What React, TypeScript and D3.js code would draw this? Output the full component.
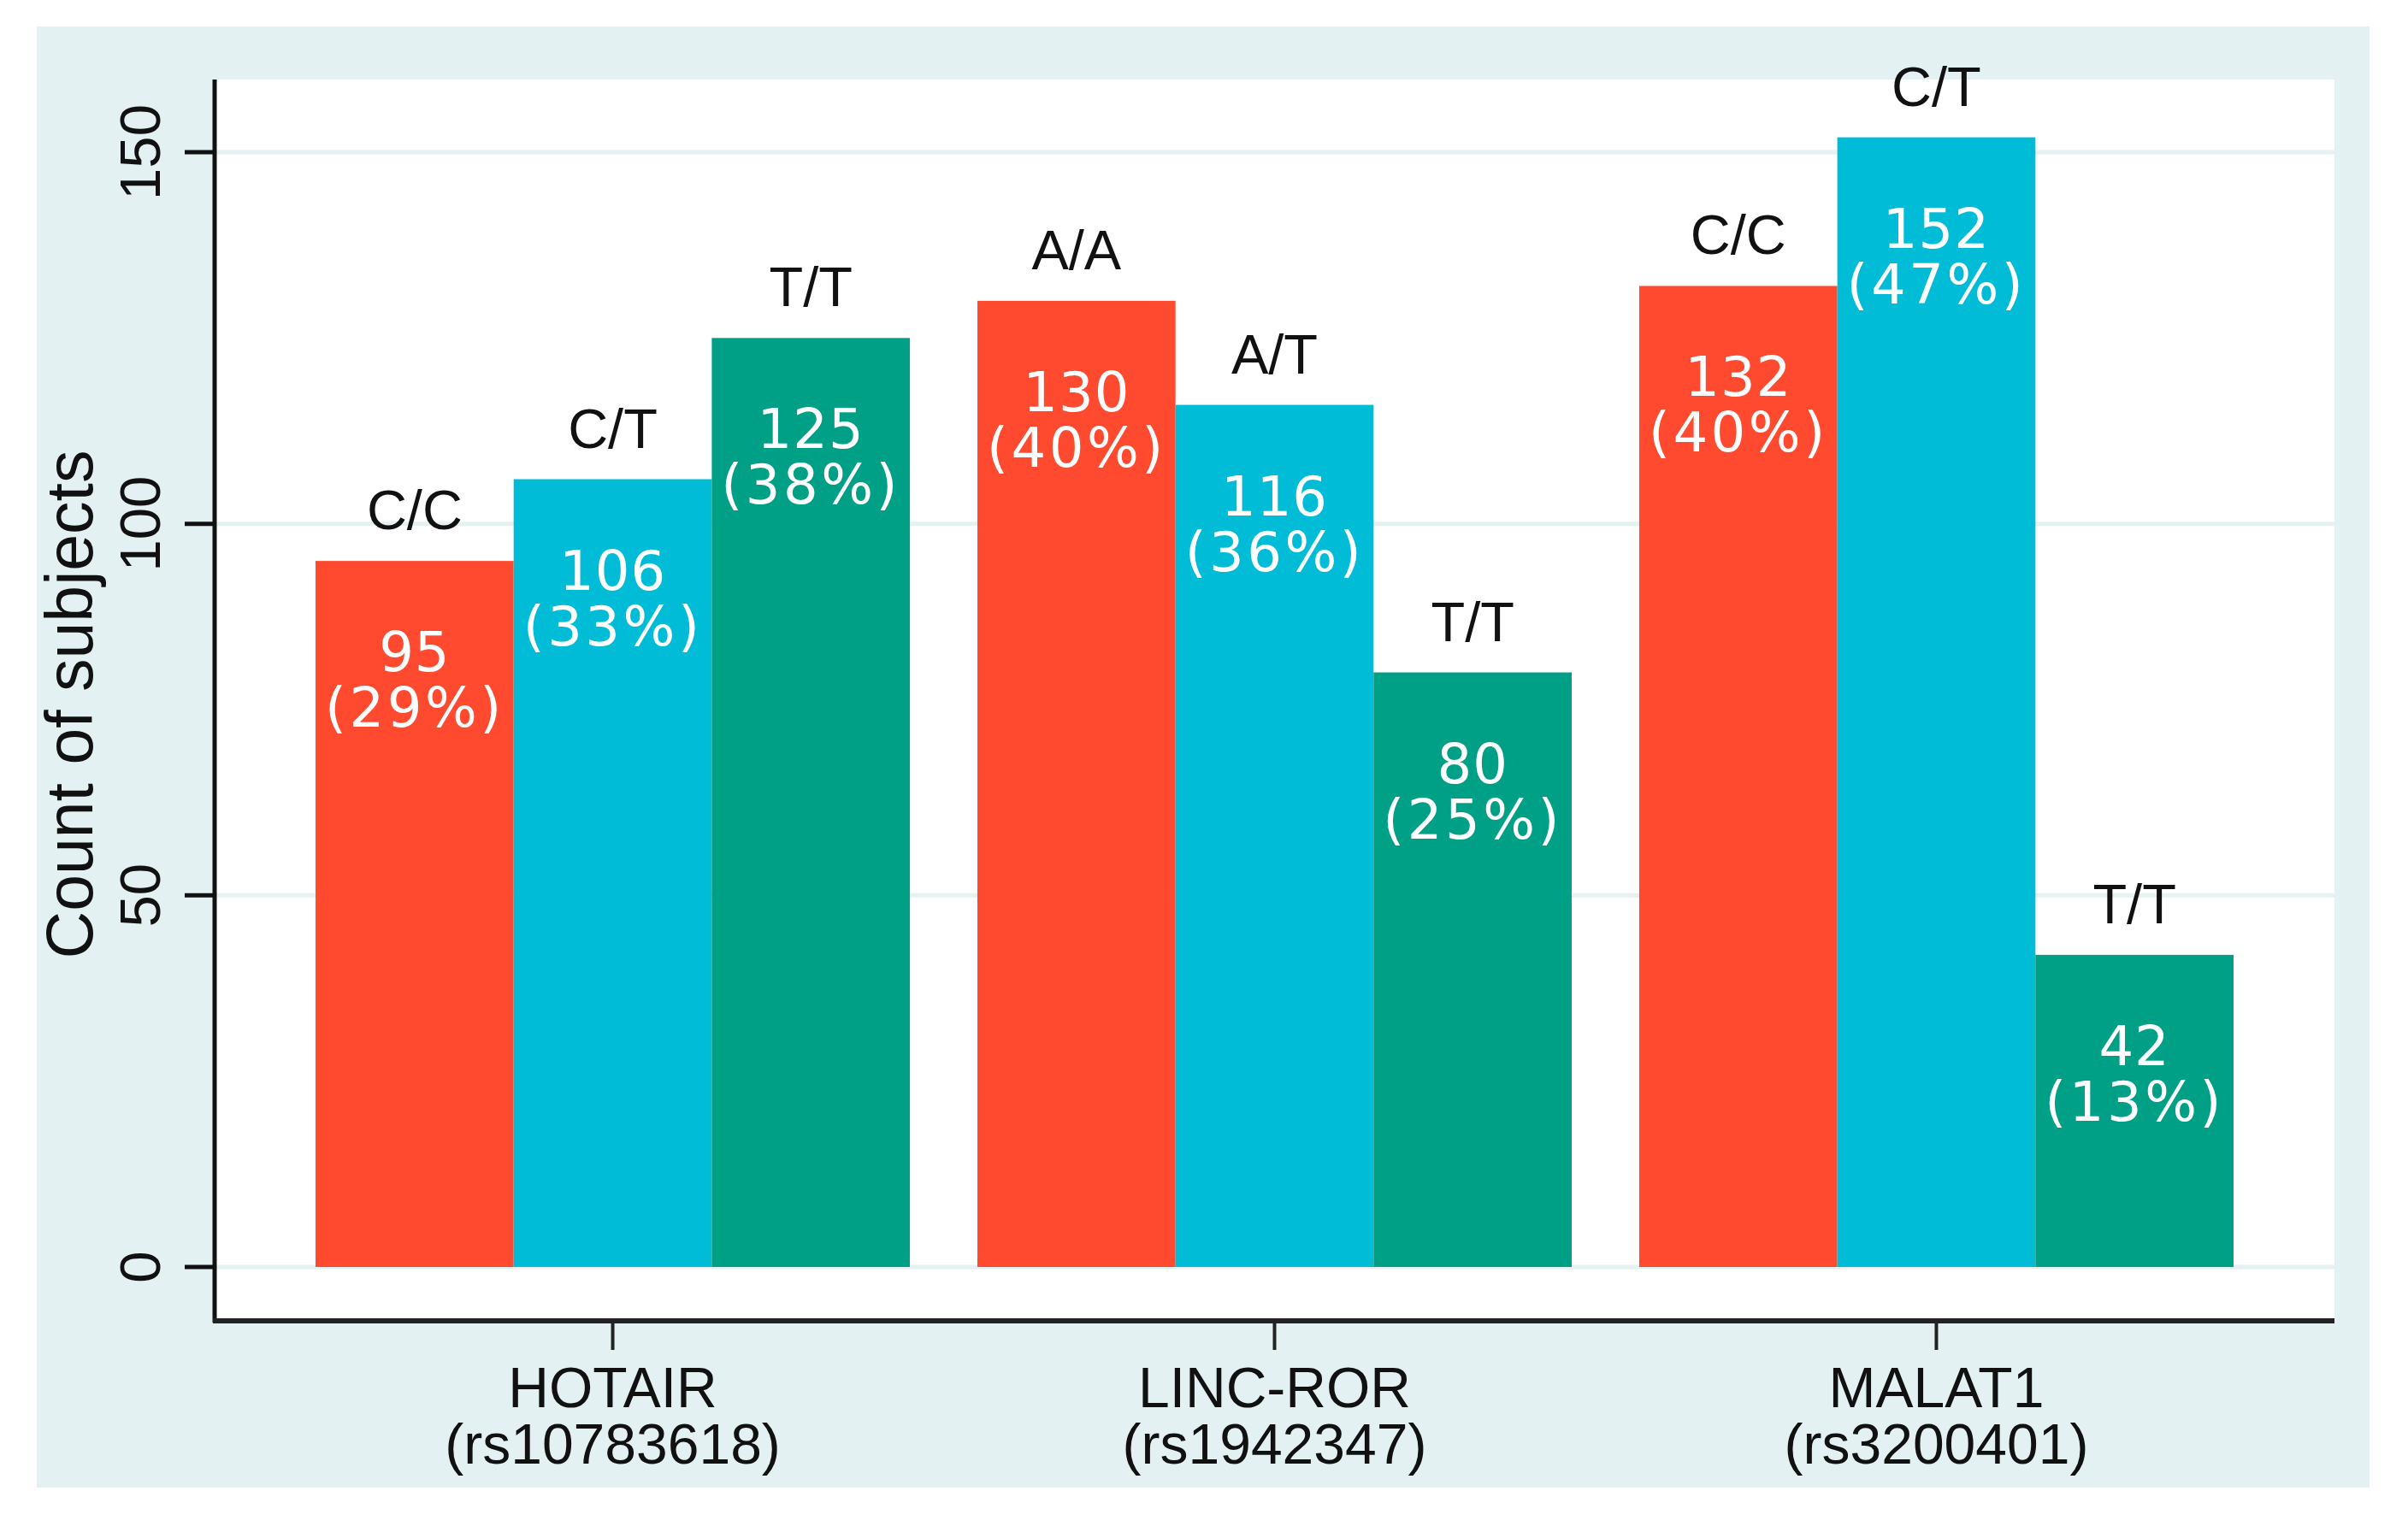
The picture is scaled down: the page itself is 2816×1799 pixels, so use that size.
import React, { useRef, useEffect } from 'react';
import { select, scaleBand, scaleLinear } from 'd3';

// chart data
const genes = ['HOTAIR', 'LINC-ROR', 'MALAT1'];
const snps = ['(rs10783618)', '(rs1942347)', '(rs3200401)'];
const genotypes = [
    ['C/C', 'C/T', 'T/T'],
    ['A/A', 'A/T', 'T/T'],
    ['C/C', 'C/T', 'T/T'],
];
const counts = [
    [95, 106, 125],
    [130, 116, 80],
    [132, 152, 42],
];
const percents = [
    [29, 33, 38],
    [40, 36, 25],
    [40, 47, 13],
];
const yTicks = [0, 50, 100, 150];
const barColors = ['#FF4A2F', '#00BCD6', '#00A086'];

const W = 2816;
const H = 1799;
const plot = { left: 251, right: 2730, top: 93, bottom: 1545 };
const sans = '"Liberation Sans", Arial, sans-serif';
const valueFont = '"DejaVu Sans", Verdana, sans-serif';

export default function App() {
    const svgRef: { current: SVGSVGElement | null } = useRef(null);

    useEffect(() => {
        document.body.style.margin = '0';
        const svg = select(svgRef.current);
        svg.selectAll('*').remove();

        const xScale = scaleBand<string>()
            .domain(genes)
            .range([plot.left, plot.right])
            .paddingInner(0.102)
            .paddingOuter(0.1525);
        const inner = scaleBand<number>().domain([0, 1, 2]).range([0, xScale.bandwidth()]);
        const yScale = scaleLinear().domain([0, 150]).range([1482, 178]);

        // backgrounds
        svg.append('rect').attr('x', 43).attr('y', 31).attr('width', 2771 - 43).attr('height', 1740 - 31).attr('fill', '#E4F1F2');
        svg.append('rect')
            .attr('x', plot.left)
            .attr('y', plot.top)
            .attr('width', plot.right - plot.left)
            .attr('height', plot.bottom - plot.top)
            .attr('fill', '#ffffff');

        // grid
        svg.append('g')
            .selectAll('line')
            .data(yTicks)
            .join('line')
            .attr('x1', plot.left)
            .attr('x2', plot.right)
            .attr('y1', (d) => yScale(d))
            .attr('y2', (d) => yScale(d))
            .attr('stroke', '#E6F1F2')
            .attr('stroke-width', 5);

        // bars + labels
        genes.forEach((gene, gi) => {
            const g = svg.append('g').attr('transform', `translate(${xScale(gene)},0)`);
            counts[gi].forEach((v, i) => {
                const x = inner(i) as number;
                const bw = inner.bandwidth();
                const top = yScale(v);
                g.append('rect')
                    .attr('x', x)
                    .attr('y', top)
                    .attr('width', bw)
                    .attr('height', yScale(0) - top)
                    .attr('fill', barColors[i]);
                g.append('text')
                    .attr('x', x + bw / 2)
                    .attr('y', top - 37)
                    .attr('text-anchor', 'middle')
                    .attr('font-family', sans)
                    .attr('font-size', 65)
                    .attr('fill', '#111')
                    .text(genotypes[gi][i]);
                // two-line value label inside the bar
                const lbl = g.append('text')
                    .attr('text-anchor', 'middle')
                    .attr('font-family', valueFont)
                    .attr('font-size', 64)
                    .attr('fill', '#ffffff');
                lbl.append('tspan')
                    .attr('x', x + bw / 2)
                    .attr('y', top + 129)
                    .attr('letter-spacing', 1)
                    .text(String(v));
                lbl.append('tspan')
                    .attr('x', x + bw / 2)
                    .attr('y', top + 194)
                    .attr('letter-spacing', 3.5)
                    .text(`(${percents[gi][i]}%)`);
            });
        });

        // y axis
        svg.append('line')
            .attr('x1', plot.left)
            .attr('x2', plot.left)
            .attr('y1', plot.top)
            .attr('y2', plot.bottom + 2)
            .attr('stroke', '#111')
            .attr('stroke-width', 5);
        const yAxis = svg.append('g');
        yAxis.selectAll('line')
            .data(yTicks)
            .join('line')
            .attr('x1', plot.left - 35)
            .attr('x2', plot.left)
            .attr('y1', (d) => yScale(d))
            .attr('y2', (d) => yScale(d))
            .attr('stroke', '#111')
            .attr('stroke-width', 5);
        yAxis.selectAll('text')
            .data(yTicks)
            .join('text')
            .attr('transform', (d) => `translate(187,${yScale(d)}) rotate(-90)`)
            .attr('text-anchor', 'middle')
            .attr('font-family', sans)
            .attr('font-size', 67)
            .attr('fill', '#111')
            .text((d) => String(d));
        svg.append('text')
            .attr('transform', `translate(108,824) rotate(-90)`)
            .attr('text-anchor', 'middle')
            .attr('font-family', sans)
            .attr('font-size', 77)
            .attr('fill', '#111')
            .text('Count of subjects');

        // x axis
        svg.append('line')
            .attr('x1', plot.left - 2)
            .attr('x2', plot.right)
            .attr('y1', plot.bottom)
            .attr('y2', plot.bottom)
            .attr('stroke', '#222')
            .attr('stroke-width', 6);
        const xAxis = svg.append('g');
        genes.forEach((gene, gi) => {
            const cx = (xScale(gene) as number) + xScale.bandwidth() / 2;
            xAxis.append('line')
                .attr('x1', cx)
                .attr('x2', cx)
                .attr('y1', plot.bottom)
                .attr('y2', plot.bottom + 34)
                .attr('stroke', '#222')
                .attr('stroke-width', 4);
            const t = xAxis.append('text')
                .attr('text-anchor', 'middle')
                .attr('font-family', sans)
                .attr('font-size', 66)
                .attr('fill', '#111');
            t.append('tspan').attr('x', cx).attr('y', 1646).text(gene);
            t.append('tspan').attr('x', cx).attr('y', 1712).text(snps[gi]);
        });
    }, []);

    return <svg ref={svgRef} width={W} height={H} style={{ display: 'block', background: '#fff' }} />;
}
